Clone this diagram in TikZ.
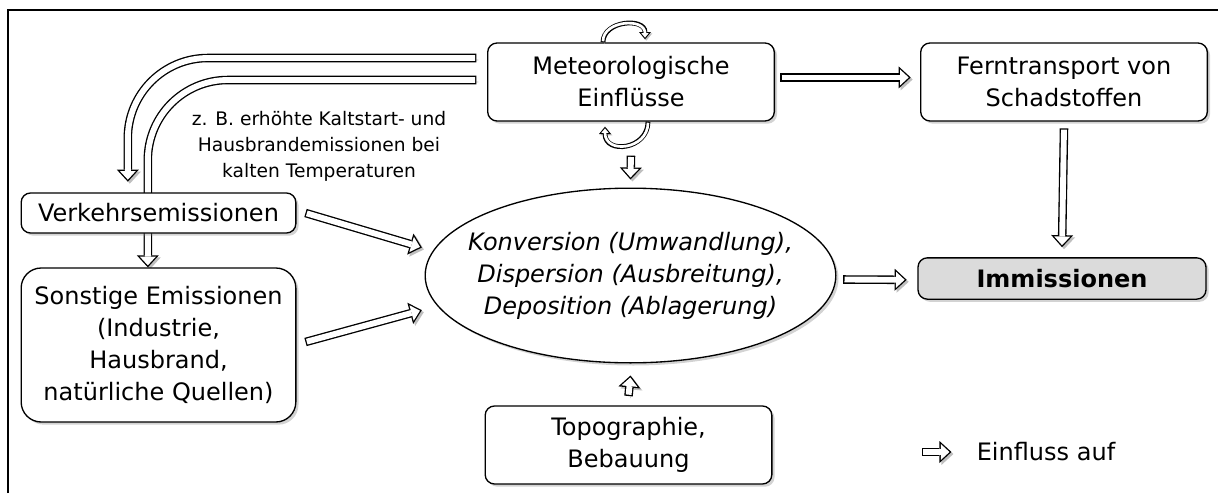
\documentclass[tikz,border=0pt]{standalone}
\usepackage{fontspec}
\setmainfont{DejaVu Sans}
\usetikzlibrary{positioning,arrows.meta,shadows,shapes.geometric,backgrounds,calc}

\tikzset{
  box/.style={draw, line width=1pt, rounded corners=7pt, fill=white, align=center,
    inner sep=0pt, drop shadow={shadow xshift=2pt, shadow yshift=-2pt, opacity=.35}},
  hollow/.style={draw=black, line width=6.4pt,
    -{Triangle[length=9pt,width=16.5pt,line width=0pt]},
    preaction={draw=black!25, transform canvas={xshift=1.5pt,yshift=-1.5pt}},
    postaction={draw=white, line width=4.4pt, shorten <=1pt, shorten >=1.5pt,
      -{Triangle[length=6.5pt,width=12pt,line width=0pt]}}},
  hollowthin/.style={draw=black, line width=3.6pt,
    -{Triangle[length=5.5pt,width=9pt,line width=0pt]},
    preaction={draw=black!25, transform canvas={xshift=1pt,yshift=-1pt}},
    postaction={draw=white, line width=2pt, shorten <=0.8pt, shorten >=1.3pt,
      -{Triangle[length=3.4pt,width=5.6pt,line width=0pt]}}}
}

\begin{document}
\begin{tikzpicture}[x=0.75pt, y=-0.75pt, every node/.style={font=\fontsize{18pt}{24pt}\selectfont}]
  \useasboundingbox (0,0) rectangle (1218,493);
  \draw[line width=1.3pt] (8,493) -- (8,10) -- (1218,10);

  % boxes
  \node[box, minimum width=215pt, minimum height=58.5pt] (meteo) at (631,82) {Meteorologische\\Einflüsse};
  \node[box, minimum width=215pt, minimum height=58.5pt] (fern) at (1064,82) {Ferntransport von\\Schadstoffen};
  \node[box, fill=black!14, minimum width=216pt, minimum height=31pt, font=\fontsize{18pt}{24pt}\selectfont\bfseries] (imm) at (1062,278.5) {Immissionen};
  \node[box, minimum width=206pt, minimum height=30pt] (verk) at (158.5,213) {Verkehrsemissionen};
  \node[box, rounded corners=15pt, minimum width=206pt, minimum height=115.5pt] (sonst) at (158.5,345) {Sonstige Emissionen\\(Industrie,\\Hausbrand,\\natürliche Quellen)};
  \node[box, ellipse, rounded corners=0pt, inner xsep=-16.5pt, minimum width=308pt, minimum height=131pt, font=\fontsize{18pt}{24pt}\selectfont\itshape] (konv) at (630.5,275.5) {Konversion (Umwandlung),\\Dispersion (Ausbreitung),\\Deposition (Ablagerung)};
  \node[box, minimum width=215pt, minimum height=58.5pt] (topo) at (628.5,445) {Topographie,\\Bebauung};
  \node[align=center, font=\fontsize{14pt}{19.5pt}\selectfont] (note) at (319,146) {z. B. erhöhte Kaltstart- und\\Hausbrandemissionen bei\\kalten Temperaturen};
  \node (leg) at (1046,452) {Einfluss auf};
  \coordinate (legA) at (922,452);

  % influence arrows
  \draw[hollow] ([xshift=4pt,yshift=3.4pt]meteo.east) -- ([xshift=-7pt,yshift=3.4pt]fern.west);
  \draw[hollow] ([yshift=-5pt]fern.south) -- ([yshift=7.5pt]imm.north);
  \draw[hollow] ([xshift=5pt,yshift=-3pt]konv.east) -- ([xshift=-8pt,yshift=-1pt]imm.west);
  \draw[hollow] ([xshift=6.75pt]verk.east) -- ([xshift=-2pt,yshift=21pt]konv.west);
  \draw[hollow] ([xshift=6.75pt,yshift=2.25pt]sonst.east) -- ([xshift=-2pt,yshift=-26pt]konv.west);
  \draw[hollow] ([yshift=7pt]topo.north) -- ([yshift=-9pt]konv.south);
  \draw[hollow] ([yshift=-25.5pt]meteo.south) -- ([yshift=6pt]konv.north);
  \draw[hollow] (legA) -- ([xshift=-15.5pt]leg.west);
  \begin{scope}[on background layer]
    \draw[hollow, rounded corners=60pt] ([xshift=-8pt,yshift=18pt]meteo.west) -| ([xshift=-23pt,yshift=8pt]verk.north);
    \draw[hollow, rounded corners=60pt] ([xshift=-8pt,yshift=1.5pt]meteo.west) -| ([xshift=-8pt]sonst.north);
  \end{scope}

  % loops on the weather box
  \draw[hollowthin] ($(meteo.north)+(-28,0)$) .. controls ($(meteo.north)+(-28,-22)$) and ($(meteo.north)+(14,-25)$) .. ($(meteo.north)+(14,-3)$);
  \draw[hollowthin] ($(meteo.south)+(17,0)$) .. controls ($(meteo.south)+(17,28)$) and ($(meteo.south)+(-26,33)$) .. ($(meteo.south)+(-26,5)$);
\end{tikzpicture}
\end{document}
